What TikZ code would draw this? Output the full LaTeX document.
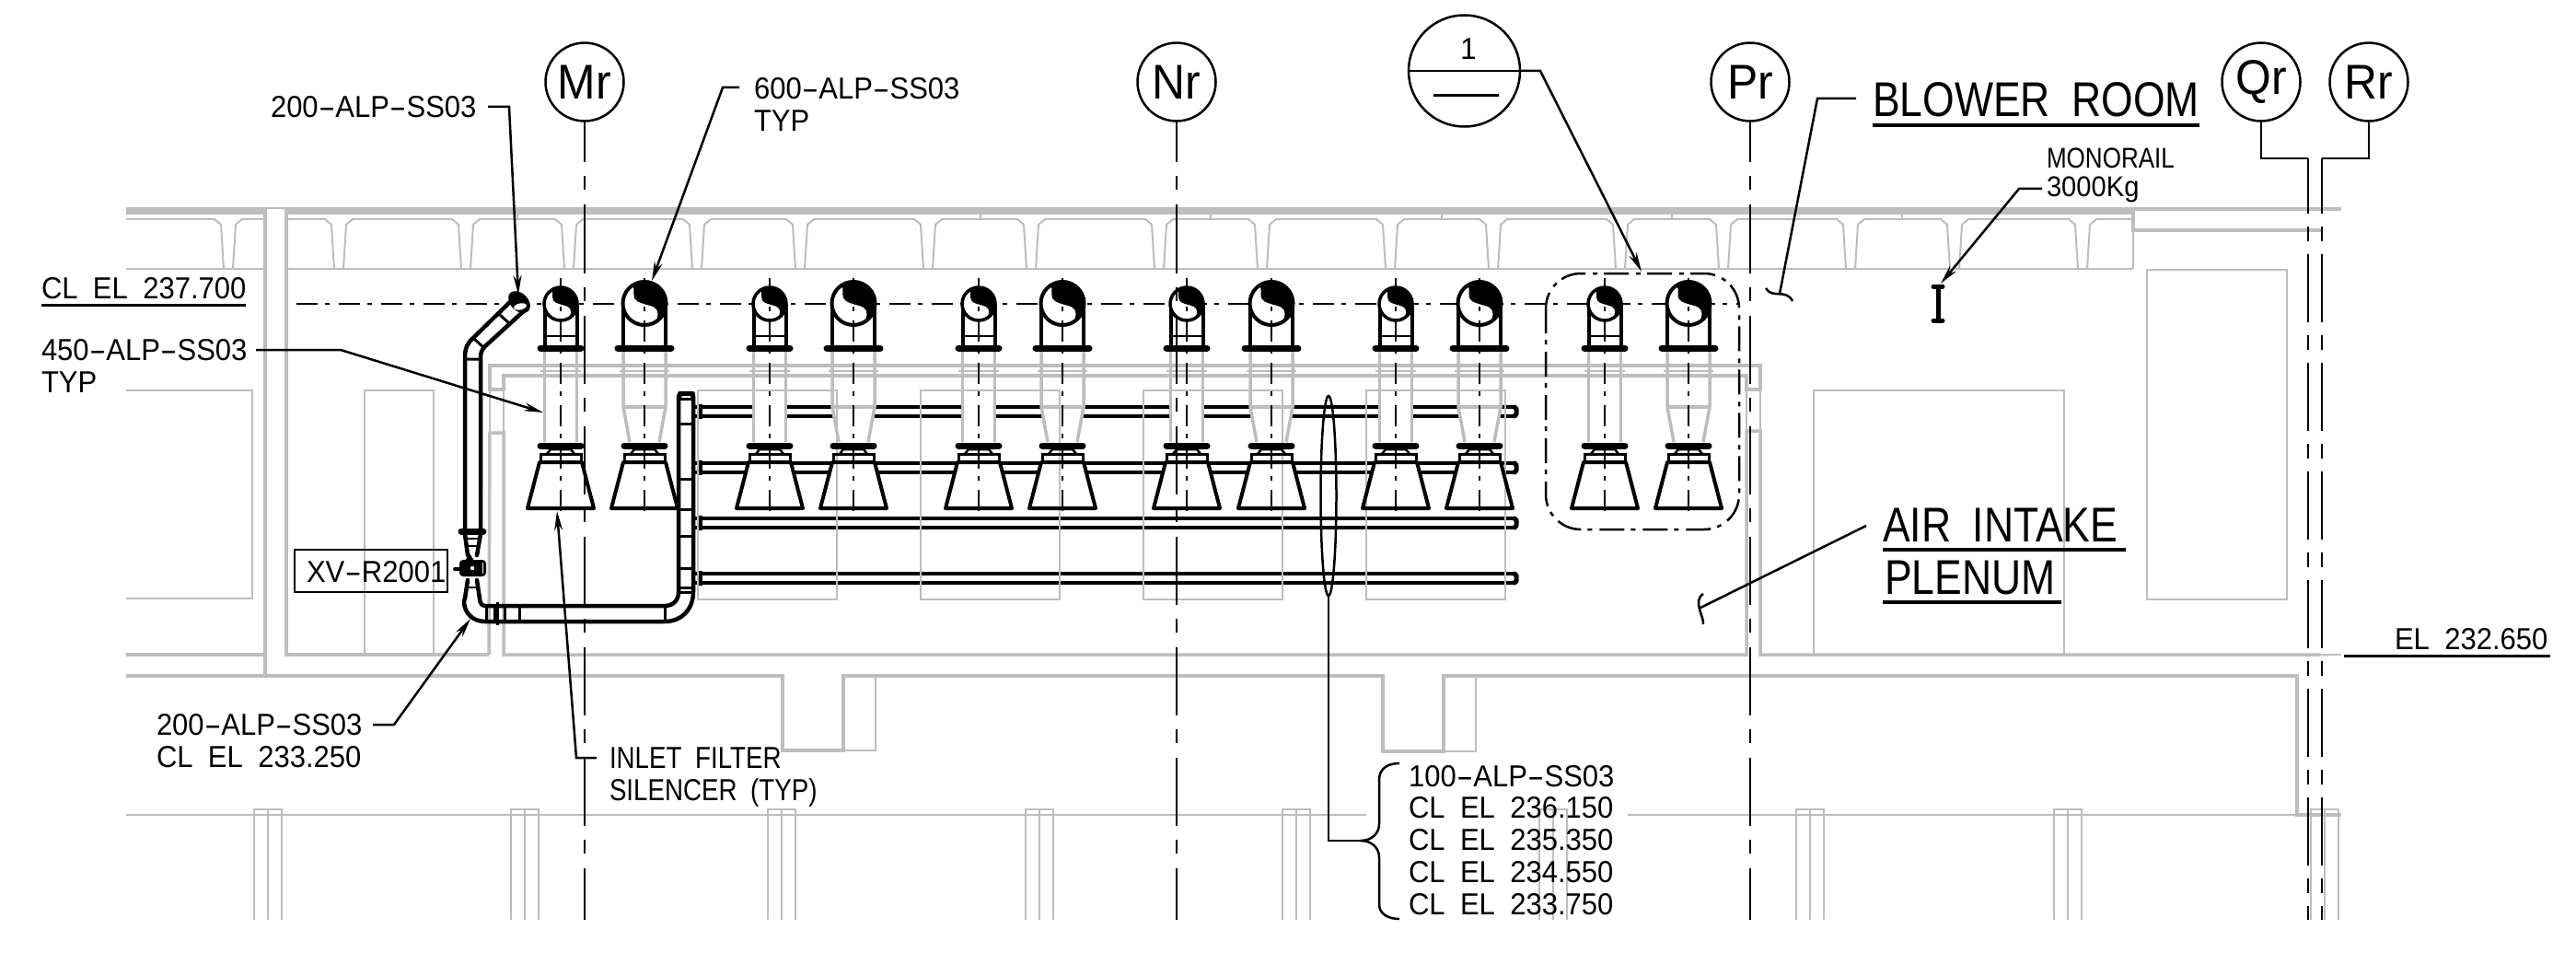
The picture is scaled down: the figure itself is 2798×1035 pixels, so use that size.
\documentclass[tikz,border=0pt]{standalone}
\usepackage{fontspec}
\usepackage{graphicx}
\usetikzlibrary{arrows.meta}
\newfontfamily\cadA[FakeStretch=0.94,WordSpace=1.9]{Liberation Sans}
\newfontfamily\cadB[FakeStretch=0.84,WordSpace=1.9]{Liberation Sans}
\newcommand\hy{\scalebox{1.8}[1]{-}}
\colorlet{gr}{black!26}
\tikzset{
 lab/.style={inner sep=0,outer sep=0,anchor=base west,font=\cadA\fontsize{33}{33}\selectfont},
 labn/.style={inner sep=0,outer sep=0,anchor=base west,font=\cadB\fontsize{33}{33}\selectfont},
 labbig/.style={inner sep=0,outer sep=0,anchor=base west,font=\cadB\fontsize{53}{53}\selectfont},
 bub/.style={circle,draw,line width=2.5pt,minimum size=85pt,inner sep=0,outer sep=0,font=\cadA\fontsize{53}{53}\selectfont},
 lead/.style={line width=2.5pt,line join=miter},
 arr/.style={lead,-{Stealth[length=21pt,width=9pt]}},
 grid/.style={line width=2.5pt,dash pattern=on 74pt off 15pt on 15pt off 16pt},
 gridb/.style={line width=2.5pt,dash pattern=on 74pt off 14pt on 16pt off 14pt},
 cl/.style={line width=2pt,dash pattern=on 23pt off 8pt on 5pt off 10pt},
 gk/.style={gr,line width=3.5pt},
 gt/.style={gr,line width=2pt},
 pipe/.style={line width=4.5pt,line cap=round,line join=round},
 flg/.style={line width=7pt,line cap=round},
 rung/.style={line width=2.5pt},
 ul/.style={line width=3pt},
 ulb/.style={line width=4pt}
}
% yin-yang: centre x, centre y, radius; outline
\newcommand\yinyang[3]{%
 \fill[white] (#1,#2) circle[radius=#3];
 \begin{scope}[shift={(#1,#2)},scale=#3]
 \fill plot[samples=30,domain=-125:63,variable=\t] ({cos(\t)},{sin(\t)})
   .. controls (.68,.65) and (.68,.3) .. (.44,.17)
   .. controls (.3,.1) and (.12,.08) .. (0,.03)
   .. controls (-.2,-.03) and (-.5,-.1) .. (-.49,-.4)
   -- (-.49,-.69) -- cycle;
 \end{scope}
}
% lower half of every unit: filter and flange
\newcommand\lowerpart{%
 \draw[flg] (-22,484) -- (22,484);
 \draw[rung] (-15,493) -- (-11,488) -- (11,488) -- (15,493);
 \draw[line width=3pt] (-22,502) -- (-22,493) -- (22,493) -- (22,502);
 \draw[line width=4pt,line join=round] (-23,502) -- (23,502) -- (36,552) -- (-36,552) -- cycle;
 \draw[cl] (0,302) -- (0,557);
}
\begin{document}
\begin{tikzpicture}[x=1pt,y=1pt,yscale=-1]
\useasboundingbox (0,0) rectangle (2798,1035);
\fill[white] (0,0) rectangle (2798,1035);

% ---- header pipes (behind the ducts and filters)
\foreach \y in {447,508,568,628}{
 \draw[pipe,line cap=butt] (753,\y-5) -- (1646,\y-5);
 \draw[pipe,line cap=butt] (753,\y+5) -- (1646,\y+5);
 \draw[line width=6pt] (760,\y-8) -- (760,\y+8);
 \draw[line width=5pt,line cap=round,line join=round] (1645,\y-5) -- (1647,\y-3) -- (1647,\y+3) -- (1645,\y+5);
}
% ---- white bodies that hide the headers
\foreach \x in {609,836,1063,1289,1516,1743}{
 \fill[white] (\x-18,381) rectangle (\x+18,480);
 \fill[white] (\x-23,502) -- (\x+23,502) -- (\x+36,552) -- (\x-36,552) -- cycle;
}
\foreach \x in {700,927,1154,1381,1607,1834}{
 \fill[white] (\x-23,381) -- (\x+23,381) -- (\x+23,442) -- (\x+16,480) -- (\x-16,480) -- (\x-23,442) -- cycle;
 \fill[white] (\x-23,502) -- (\x+23,502) -- (\x+36,552) -- (\x-36,552) -- cycle;
}

% ---- grey structure
\draw[gr,line width=8pt] (137,229) -- (288,229);
\draw[gr,line width=8pt] (311,229) -- (2317,229);
\draw[gt] (288,226) -- (311,226);
\draw[gt] (137,238) -- (288,238) (311,238) -- (2317,238);
\draw[gt] (137,292) -- (288,292) (311,292) -- (2317,292);
\foreach \x in {248,368,506,618,757,869,1008,1120,1259,1371,1510,1622,1760,1872,2010,2123,2262}{
 \fill[white] (\x-14,236) rectangle (\x+14,246);
 \draw[gt,line join=round] (\x-15,238) -- (\x-8,244) -- (\x-5,292);
 \draw[gt,line join=round] (\x+15,238) -- (\x+8,244) -- (\x+5,292);
}
\foreach \x in {562,1065,1315,1566,1816,2066}{ \draw[gt] (\x,233) -- (\x,238); }
% column
\draw[gk] (288,225) -- (288,734);
\draw[gk] (311,225) -- (311,711) -- (531,711);
% right of the slab
\draw[gk] (2317,225) -- (2317,250) -- (2522,250);
\draw[gk] (2317,227) -- (2543,227);
\draw[gt] (2317,250) -- (2317,292);
% inner wall
\draw[gk] (531,711) -- (532,470) -- (547,470) -- (547,711) -- (1897,711) -- (1897,468) -- (1912,468) -- (1912,711) -- (2520,711);
\draw[gt] (2520,711) -- (2543,711);
\draw[gk] (532,423) -- (532,397) -- (1912,397) -- (1912,423) -- (1897,423) -- (1897,408) -- (547,408) -- (547,423) -- cycle;
\draw[gt] (532,423) -- (532,470) (547,423) -- (547,470) (1897,423) -- (1897,468) (1912,423) -- (1912,468);
% floor
\draw[gk] (137,711) -- (288,711);
\draw[gk] (137,734) -- (850,734) -- (850,815) -- (916,815) -- (916,734) -- (1502,734) -- (1502,816) -- (1568,816) -- (1568,734) -- (2495,734) -- (2495,885) -- (2543,885);
\draw[gt] (916,815) -- (951,815) -- (951,734);
\draw[gt] (1568,816) -- (1603,816) -- (1603,734);
\draw[gt] (137,885) -- (1484,885) (1768,885) -- (2495,885);
% piles
\foreach \x in {276,555,834,1114,1393,1672,1951,2231,2510}{
 \draw[gt] (\x,999) -- (\x,879) -- (\x+30,879) -- (\x+30,999);
 \draw[gt] (\x+15,879) -- (\x+15,999);
}
% thin panels
\draw[gt] (137,424) -- (274,424) -- (274,650) -- (137,650);
\draw[gt] (396,711) -- (396,424) -- (471,424) -- (471,711);
\foreach \x in {758,1000,1242,1484}{ \draw[gt] (\x,424) rectangle (\x+151,651); }
\draw[gt] (1970,711) -- (1970,424) -- (2242,424) -- (2242,711);
\draw[gt] (2332,293) rectangle (2484,651);
% grey ducts
\foreach \x in {609,836,1063,1289,1516,1743}{
 \begin{scope}[shift={(\x,0)}]
 \draw[gk] (-17.5,381) -- (-17.5,480) (17.5,381) -- (17.5,480);
 \draw[gt] (-22,403) -- (22,403);
 \end{scope}
}
\foreach \x in {700,927,1154,1381,1607,1834}{
 \begin{scope}[shift={(\x,0)}]
 \draw[gk] (-23,381) -- (-23,442) -- (-16,480) (23,381) -- (23,442) -- (16,480);
 \draw[gk] (-23,442) -- (23,442);
 \draw[gt] (-27,403) -- (27,403);
 \end{scope}
}

% ---- equipment centre line
\coordinate (cla) at (322,330);
\coordinate (clb) at (1888,330);
\draw[cl] (cla) -- (clb);

% ---- blower units
\foreach \x in {609,836,1063,1289,1516,1743}{
 \begin{scope}[shift={(\x,0)}]
 \draw[line width=4pt] (-17.5,330) -- (-17.5,378) (17.5,330) -- (17.5,378);
 \draw[rung] (-17.5,365) -- (17.5,365);
 \draw[flg] (-22,378) -- (22,378);
 \yinyang{0}{330}{18}
 \draw[line width=3.5pt] (0,330) circle[radius=18];
 \lowerpart
 \end{scope}
}
\foreach \x in {700,927,1154,1381,1607,1834}{
 \begin{scope}[shift={(\x,0)}]
 \draw[line width=4pt] (-23,330) -- (-23,378) (23,330) -- (23,378);
 \draw[flg] (-29,378) -- (29,378);
 \yinyang{0}{329.5}{23.5}
 \draw[line width=4pt] (0,329.5) circle[radius=23.5];
 \lowerpart
 \end{scope}
}

% ---- group outline
\draw[line width=2.5pt,rounded corners=38pt,dash pattern=on 27pt off 7pt on 5pt off 8pt] (1679,297) rectangle (1889,575);

% ---- piping
\draw[pipe] (505,577) -- (505,388) .. controls (505,378) and (508,372) .. (514,367) -- (556,326);
\draw[pipe] (522,577) -- (522,388) .. controls (522,384) and (523,380) .. (527,376) -- (572,335);
\draw[line width=3pt] (505,390) -- (522,390) (515,368) -- (526,378) (543,342) -- (553,351);
\fill[rotate around={45:(564,328)}] (564,328) ellipse[x radius=14,y radius=9.5];
\fill[white,rotate around={-12:(565,333)}] (565,333) ellipse[x radius=7,y radius=3.5];
\draw[flg] (501,577) -- (525,577);
% reducer and valve
\draw[pipe] (505,580) -- (508,603) (522,580) -- (518,603);
\draw[pipe] (508,630) -- (505,650) (518,630) -- (521,650);
\draw[rung] (506,585) -- (521,585) (507,593) -- (520,593) (506,638) -- (520,638);
\fill (510,601) -- (503,612) -- (517,612) -- cycle;
\fill[rounded corners=4pt] (499,608) rectangle (528,626);
\draw[line width=4pt,line cap=round] (494,618) -- (503,618);
\fill[white] (513,617) circle[radius=2.2];
\fill[white] (524,611) rectangle (525,623);
% bottom run
\draw[pipe] (505,650) -- (504,653) .. controls (504,666) and (514,675) .. (527,675) -- (722,675) .. controls (740,675) and (753,662) .. (753,643) -- (753,430);
\draw[pipe] (521,650) .. controls (521,654) and (523,658) .. (527,658) -- (722,658) .. controls (731,658) and (737,652) .. (737,643) -- (737,430);
\draw[line width=5pt,line cap=round,line join=round] (738,430) -- (738,427) -- (752,427) -- (752,430);
\foreach \y in {433,460,520,553,582,617,638,643}{ \draw[line width=3pt] (737,\y) -- (753,\y); }
\foreach \x in {528,537,548,564,722}{ \draw[line width=3pt] (\x,658) -- (\x,675); }
\draw[line width=3pt] (540,654) -- (540,679);

% ---- grid bubbles and lines
\node[bub] (mr) at (635,89) {Mr};
\node[bub] (nr) at (1278,89) {Nr};
\node[bub] (pr) at (1901,89) {Pr};
\node[bub] (qr) at (2456,89) {Qr};
\node[bub] (rr) at (2573,89) {Rr};
\coordinate (mrend) at (635,999);
\coordinate (nrend) at (1278,999);
\coordinate (prend) at (1901,999);
\coordinate (qrk1) at (2456,172);
\coordinate (qrk2) at (2507,172);
\coordinate (qrend) at (2507,999);
\coordinate (rrk1) at (2573,172);
\coordinate (rrk2) at (2522,172);
\coordinate (rrend) at (2522,999);
\draw[grid,dash phase=29pt] (mr.south) -- (mrend);
\draw[grid,dash phase=29pt] (nr.south) -- (nrend);
\draw[grid,dash phase=29pt] (pr.south) -- (prend);
\draw[line width=2.5pt] (qr.south) -- (qrk1) -- (qrk2);
\draw[line width=2.5pt] (rr.south) -- (rrk1) -- (rrk2);
\draw[gridb,dash phase=14pt] (qrk2) -- (qrend);
\draw[gridb,dash phase=14pt] (rrk2) -- (rrend);

% ---- detail bubble
\node[circle,draw,line width=2.5pt,minimum size=121pt,inner sep=0,outer sep=0] (dt) at (1590.5,77) {};
\node[lab,anchor=base] (dtn) at (1595,65) {1};
\coordinate (dtk) at (1673,77);
\coordinate (dttip) at (1783,295);
\coordinate (dtbara) at (1557,104);
\coordinate (dtbarb) at (1628,104);
\draw[line width=2.5pt] (dt.west) -- (dt.east);
\draw[line width=3pt] (dtbara) -- (dtbarb);
\draw[arr] (dt.east) -- (dtk) -- (dttip);

% ---- labels and leaders
\node[lab] (a1) at (294,128) {200\hy ALP\hy SS03};
\coordinate (a1k) at (530,116); \coordinate (a1j) at (553,116); \coordinate (a1t) at (563,320);
\draw[arr] (a1k) -- (a1j) -- (a1t);

\node[lab] (b1) at (819,108) {600\hy ALP\hy SS03};
\node[lab] (b2) at (819,143) {TYP};
\coordinate (b1k) at (803,95); \coordinate (b1j) at (785,95); \coordinate (b1t) at (708,305);
\draw[arr] (b1k) -- (b1j) -- (b1t);

\node[lab] (c1) at (45,324) {CL EL 237.700};
\coordinate (c1a) at (45,331); \coordinate (c1b) at (267,331);
\draw[ul] (c1a) -- (c1b);

\node[lab] (d1) at (45,391) {450\hy ALP\hy SS03};
\node[lab] (d2) at (45,426) {TYP};
\coordinate (d1k) at (278,380); \coordinate (d1j) at (370,380); \coordinate (d1t) at (590,448);
\draw[arr] (d1k) -- (d1j) -- (d1t);

\draw[line width=2.5pt] (320,597) rectangle (486,643);
\node[lab] (xv) at (333,632) {XV\hy R2001};

\node[lab] (e1) at (170,798) {200\hy ALP\hy SS03};
\node[lab] (e2) at (170,833) {CL EL 233.250};
\coordinate (e1k) at (405,787); \coordinate (e1j) at (428,787); \coordinate (e1t) at (511,672);
\draw[arr] (e1k) -- (e1j) -- (e1t);

\node[labn] (f1) at (662,834) {INLET FILTER};
\node[labn] (f2) at (662,869) {SILENCER (TYP)};
\coordinate (f1k) at (648,823); \coordinate (f1j) at (626,823); \coordinate (f1t) at (605,555);
\draw[arr] (f1k) -- (f1j) -- (f1t);

\node[labbig] (g1) at (2034,127) {BLOWER ROOM};
\coordinate (g1a) at (2034,136); \coordinate (g1b) at (2389,136);
\draw[ulb] (g1a) -- (g1b);
\coordinate (g1k) at (2016,107); \coordinate (g1j) at (1974,107); \coordinate (g1t) at (1933,319);
\draw[lead] (g1k) -- (g1j) -- (g1t);
\draw[lead] (1918,313) .. controls (1925,325) and (1940,313) .. (1947,327);

\node[labbig,font=\cadB\fontsize{31}{31}\selectfont] (h1) at (2223,183) {MONORAIL};
\node[lab,font=\cadA\fontsize{31}{31}\selectfont] (h2) at (2223,214) {3000Kg};
\coordinate (h1k) at (2218,205); \coordinate (h1j) at (2193,205); \coordinate (h1t) at (2108,308);
\draw[arr] (h1k) -- (h1j) -- (h1t);
\draw[line width=5pt] (2105,311) -- (2105,348);
\draw[line width=5pt,line cap=round] (2100,311) -- (2110,311) (2100,348) -- (2110,348);

\node[labbig] (i1) at (2045,588) {AIR INTAKE};
\coordinate (i1a) at (2045,597); \coordinate (i1b) at (2309,597);
\draw[ulb] (i1a) -- (i1b);
\node[labbig] (i2) at (2047,645) {PLENUM};
\coordinate (i2a) at (2045,654); \coordinate (i2b) at (2239,654);
\draw[ulb] (i2a) -- (i2b);
\coordinate (i1k) at (2027,571); \coordinate (i1t) at (1845,661);
\draw[lead] (i1k) -- (i1t);
\draw[lead] (1850,645) .. controls (1838,653) and (1851,669) .. (1850,678);

\node[lab] (j1) at (2601,705) {EL 232.650};
\coordinate (j1a) at (2546,712); \coordinate (j1b) at (2770,712);
\draw[ul] (j1a) -- (j1b);

% ---- collector and brace
\draw[line width=2.5pt] (1443,538.5) ellipse[x radius=8.5,y radius=108.5];
\coordinate (k0) at (1443,647); \coordinate (k1) at (1443,913); \coordinate (k2) at (1478,913);
\draw[lead] (k0) -- (k1) -- (k2);
\draw[line width=2.5pt] (k2) .. controls (1490,913) and (1498,905) .. (1498,895) -- (1498,847) .. controls (1498,835) and (1507,829) .. (1520,829);
\draw[line width=2.5pt] (k2) .. controls (1490,913) and (1498,921) .. (1498,931) -- (1498,982) .. controls (1498,992) and (1507,998) .. (1520,998);
\node[lab] (k3) at (1530,854) {100\hy ALP\hy SS03};
\node[lab] (k4) at (1530,888) {CL EL 236.150};
\node[lab] (k5) at (1530,923) {CL EL 235.350};
\node[lab] (k6) at (1530,958) {CL EL 234.550};
\node[lab] (k7) at (1530,993) {CL EL 233.750};
\end{tikzpicture}
\end{document}
